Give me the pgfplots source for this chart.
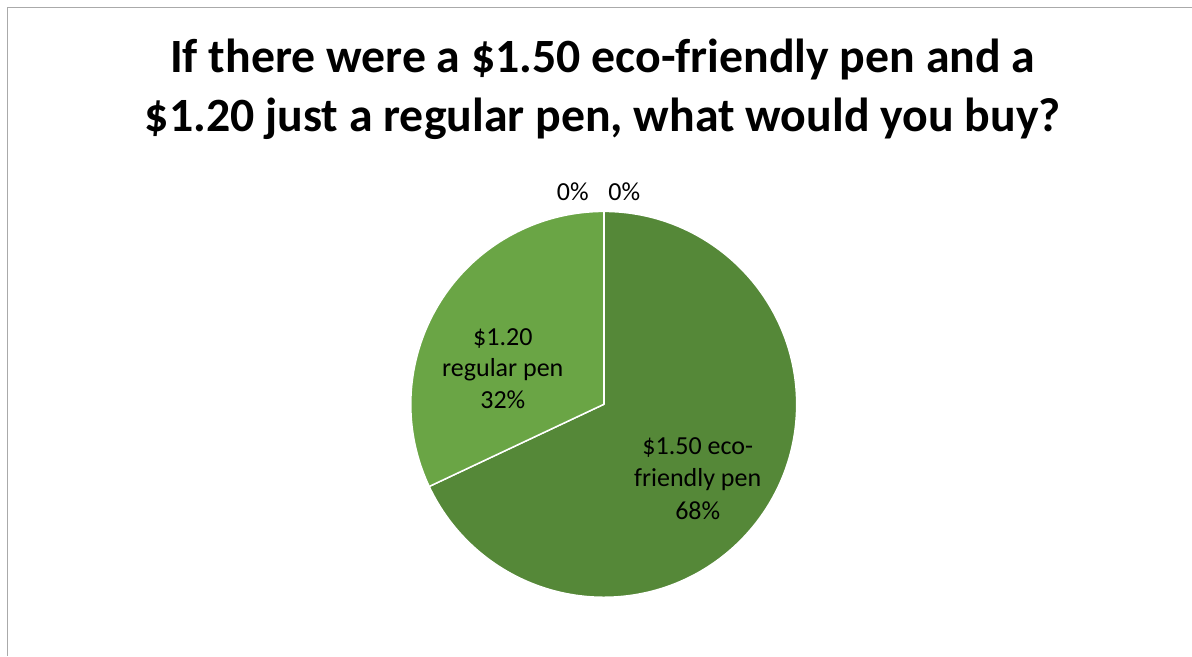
\documentclass[border=0pt]{standalone}
\usepackage{pgfplots}
\usepackage{pgfplotstable}
\pgfplotsset{compat=1.18}
\usepackage{fontspec}
\setmainfont{Carlito}

\definecolor{ecogreen}{RGB}{85,136,56}
\definecolor{reggreen}{RGB}{106,165,69}
\definecolor{frame}{RGB}{170,170,170}

% share of answers, in percent, clockwise from 12 o'clock
\pgfplotstableread{
answer   value
eco      68
regular  32
zeroA    0
zeroB    0
}\pie

\begin{document}
\begin{tikzpicture}
\pgfplotstablegetelem{0}{value}\of\pie \let\vEco\pgfplotsretval
\pgfplotstablegetelem{1}{value}\of\pie \let\vReg\pgfplotsretval
\pgfplotstablegetelem{2}{value}\of\pie \let\vZa\pgfplotsretval
\pgfplotstablegetelem{3}{value}\of\pie \let\vZb\pgfplotsretval
\begin{axis}[
    x=1pt, y=1pt,
    xmin=0, xmax=1192,
    ymin=0, ymax=656,
    y dir=reverse,
    hide axis,
    clip=false,
]
    \fill[white] (axis cs:0,0) rectangle (axis cs:1192,656);
    \draw[frame, line width=1pt] (axis cs:7.5,656) |- (axis cs:1192,7.5);

    % title
    \node[anchor=base, font=\bfseries\fontsize{47.8}{57}\selectfont]
        at (axis cs:603,72.7) {If there were a \$1.50 eco-friendly pen and a};
    \node[anchor=base, font=\bfseries\fontsize{47.8}{57}\selectfont]
        at (axis cs:603,131.7) {\$1.20 just a regular pen, what would you buy?};

    % slices
    \fill[ecogreen, draw=white, line width=1.5pt] (axis cs:604,404.5) -- ++(90:193pt)
        arc[start angle=90, end angle={90-3.6*\vEco}, radius=193pt] -- cycle;
    \fill[reggreen, draw=white, line width=1.5pt] (axis cs:604,404.5) -- ++({90-3.6*\vEco}:193pt)
        arc[start angle={90-3.6*\vEco}, end angle={90-3.6*(\vEco+\vReg)}, radius=193pt] -- cycle;
    \draw[white, line width=1.5pt] (axis cs:604,404.5) -- ++(90:193pt);

    % data labels
    \begin{scope}[every node/.style={anchor=base, font=\fontsize{26}{31}\selectfont}]
        \node at (axis cs:503,346) {\$1.20};
        \node at (axis cs:503,377) {regular pen};
        \node at (axis cs:503,409) {\vReg\%};
        \node at (axis cs:698,455) {\$1.50 eco-};
        \node at (axis cs:698,487) {friendly pen};
        \node at (axis cs:698,520) {\vEco\%};
        \node at (axis cs:573,200.7) {\vZb\%};
        \node at (axis cs:624.5,200.7) {\vZa\%};
    \end{scope}
\end{axis}
\end{tikzpicture}
\end{document}
